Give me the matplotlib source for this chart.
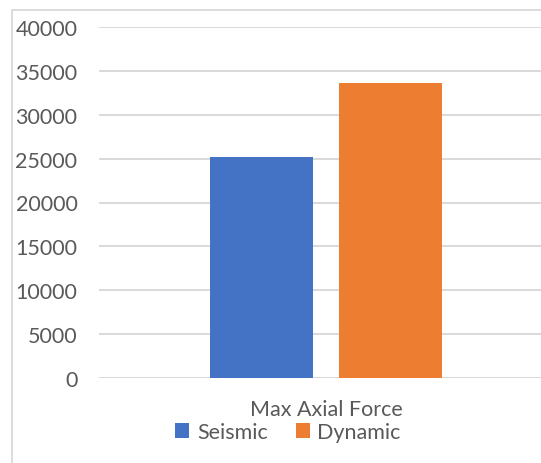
import matplotlib
matplotlib.use("Agg")
import matplotlib.pyplot as plt
from matplotlib.patches import Rectangle

categories = ["Max Axial Force"]
series_names = ["Seismic", "Dynamic"]
seismic = [25150]
dynamic = [33600]
yticks = [0, 5000, 10000, 15000, 20000, 25000, 30000, 35000, 40000]
colors = ["#4472C4", "#ED7D31"]

plt.rcParams['font.family'] = ['Lato', 'DejaVu Sans']
W, H = 541, 464
fig = plt.figure(figsize=(W/100, H/100), dpi=100)

# chart area border
fig.patches.append(Rectangle((12/W, -0.1), 1.2, 1 - 11/H + 0.1, transform=fig.transFigure,
                             fill=False, edgecolor="#d9d9d9", linewidth=1.3, zorder=0))

ax = fig.add_axes([99/W, 1 - 379/H, 454/W, 351/H])
ax.patch.set_alpha(0)
offs = [-0.143, 0.143]
for i, (name, vals) in enumerate(zip(series_names, [seismic, dynamic])):
    ax.bar([offs[i]], vals, width=0.227, color=colors[i], label=name, zorder=3)

ax.set_xlim(-0.5, 0.5)
ax.set_ylim(0, 40000)
ax.set_yticks(yticks)
ax.set_yticklabels([str(t) for t in yticks])
ax.yaxis.grid(True, color="#d9d9d9", linewidth=1.4, zorder=0)
ax.set_axisbelow(True)
for s in ax.spines.values():
    s.set_visible(False)
ax.tick_params(axis='y', length=0, pad=15.5, labelsize=15.5, labelcolor="#595959")
ax.set_xticks([0])
ax.set_xticklabels([])
ax.tick_params(axis='x', length=0)

fig.text(326/W, 1 - 410/H, categories[0], ha='center', va='center', fontsize=15.5, color="#595959")

leg = fig.legend(loc='center', bbox_to_anchor=(288/W, 1 - 433/H), ncol=2, frameon=False,
                 fontsize=15.5, labelcolor="#595959", handlelength=0.65, handleheight=0.65,
                 handletextpad=0.35, columnspacing=1.3, borderaxespad=0, borderpad=0)

fig.savefig("out.png", dpi=100)
